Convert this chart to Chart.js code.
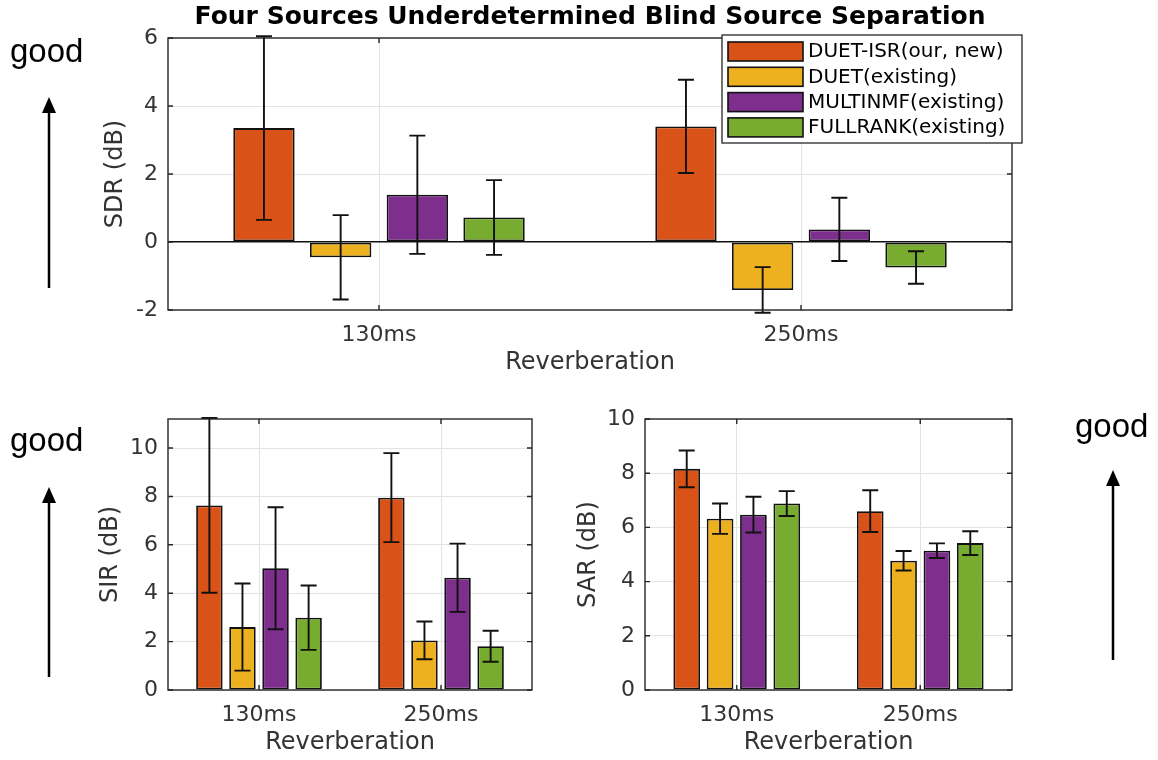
<!DOCTYPE html>
<html>
<head>
<meta charset="utf-8">
<script src="https://cdn.jsdelivr.net/npm/chart.js@4.4.0/dist/chart.umd.min.js"></script>
<style>
  html, body { margin: 0; padding: 0; background: #fff; }
  #page { position: relative; width: 1158px; height: 760px; overflow: hidden; }
  .box { position: absolute; }
  #notes { position: absolute; left: 0; top: 0; pointer-events: none; }
</style>
</head>
<body>
<div id="page">
  <div class="box" style="left:0;top:0;width:1158px;height:380px"><canvas id="sdrChart"></canvas></div>
  <div class="box" style="left:0;top:380px;width:560px;height:380px"><canvas id="sirChart"></canvas></div>
  <div class="box" style="left:560px;top:380px;width:598px;height:380px"><canvas id="sarChart"></canvas></div>
  <svg id="notes" width="1158" height="760">
    <g font-family="Liberation Sans, Arial, sans-serif" font-size="33" fill="#000">
      <text x="10" y="62">good</text>
      <text x="10" y="451">good</text>
      <text x="1075" y="437">good</text>
    </g>
    <g stroke="#000" stroke-width="2.5" fill="#000">
      <line x1="49" y1="288" x2="49" y2="110" />
      <polygon points="49,97 42,113 56,113" stroke="none" />
      <line x1="49" y1="677" x2="49" y2="500" />
      <polygon points="49,487 42,503 56,503" stroke="none" />
      <line x1="1113" y1="660" x2="1113" y2="483" />
      <polygon points="1113,470 1106,486 1120,486" stroke="none" />
    </g>
  </svg>
</div>
<script>
const categories = ['130ms', '250ms'];
const methods = ['DUET-ISR(our, new)', 'DUET(existing)', 'MULTINMF(existing)', 'FULLRANK(existing)'];
const methodColors = ['#D95319', '#EDB120', '#7E2F8E', '#77AC30'];

// one row per method: [130ms, 250ms]
const sdrMean = [[3.35, 3.40], [-0.45, -1.41], [1.39, 0.37], [0.72, -0.75]];
const sdrErr  = [[2.70, 1.37], [1.24, 0.67], [1.74, 0.93], [1.10, 0.48]];
const sirMean = [[7.63, 7.95], [2.60, 2.05], [5.03, 4.64], [2.99, 1.81]];
const sirErr  = [[3.61, 1.84], [1.80, 0.78], [2.52, 1.41], [1.33, 0.64]];
const sarMean = [[8.16, 6.60], [6.32, 4.77], [6.47, 5.14], [6.88, 5.42]];
const sarErr  = [[0.68, 0.77], [0.56, 0.36], [0.66, 0.27], [0.46, 0.44]];

const sdrTicks = [-2, 0, 2, 4, 6];
const sirTicks = [0, 2, 4, 6, 8, 10];
const sarTicks = [0, 2, 4, 6, 8, 10];

Chart.defaults.font.family = 'DejaVu Sans';
Chart.defaults.color = '#333';

// error bars + matlab style box with inward ticks
const errBars = {
  id: 'errBars',
  afterDatasetsDraw(chart) {
    const { ctx, chartArea: a, scales } = chart;
    const y = scales.y, x = scales.x;
    ctx.save();
    ctx.strokeStyle = '#111';
    ctx.lineWidth = 1.9;
    chart.data.datasets.forEach((ds, i) => {
      chart.getDatasetMeta(i).data.forEach((bar, j) => {
        const top = y.getPixelForValue(ds.data[j] + ds.errors[j]);
        const bot = y.getPixelForValue(ds.data[j] - ds.errors[j]);
        ctx.beginPath();
        ctx.moveTo(bar.x, top); ctx.lineTo(bar.x, bot);
        ctx.moveTo(bar.x - 8, top); ctx.lineTo(bar.x + 8, top);
        ctx.moveTo(bar.x - 8, bot); ctx.lineTo(bar.x + 8, bot);
        ctx.stroke();
      });
    });
    // box
    ctx.strokeStyle = '#262626';
    ctx.lineWidth = 1.4;
    ctx.strokeRect(a.left, a.top, a.right - a.left, a.bottom - a.top);
    ctx.beginPath();
    y.ticks.forEach(t => {
      const py = y.getPixelForValue(t.value);
      ctx.moveTo(a.left, py); ctx.lineTo(a.left + 5, py);
      ctx.moveTo(a.right, py); ctx.lineTo(a.right - 5, py);
    });
    categories.forEach((c, i) => {
      const px = x.getPixelForValue(i);
      ctx.moveTo(px, a.bottom); ctx.lineTo(px, a.bottom - 5);
      ctx.moveTo(px, a.top); ctx.lineTo(px, a.top + 5);
    });
    ctx.stroke();
    ctx.restore();
  }
};

const boxLegend = {
  id: 'boxLegend',
  afterDraw(chart, args, opts) {
    if (!opts.show) return;
    const { ctx, chartArea } = chart;
    const x0 = chartArea.right - 290, y0 = chartArea.top - 3;
    ctx.save();
    ctx.fillStyle = '#fff';
    ctx.fillRect(x0, y0, 300, 108);
    ctx.strokeStyle = '#262626';
    ctx.lineWidth = 1.3;
    ctx.strokeRect(x0, y0, 300, 108);
    ctx.font = '20px "DejaVu Sans"';
    ctx.textBaseline = 'middle';
    chart.data.datasets.forEach((ds, i) => {
      const ry = y0 + 7 + i * 25.3;
      ctx.fillStyle = ds.backgroundColor;
      ctx.fillRect(x0 + 6, ry, 75, 19);
      ctx.strokeStyle = '#111';
      ctx.lineWidth = 1.6;
      ctx.strokeRect(x0 + 6, ry, 75, 19);
      ctx.fillStyle = '#000';
      ctx.fillText(ds.label, x0 + 86, ry + 10);
    });
    ctx.restore();
  }
};

function makeChart(id, means, errs, yMin, yMax, tickVals, yTitle, pad, yWidth, extra) {
  const datasets = methods.map((m, i) => ({
    label: m,
    data: means[i],
    errors: errs[i],
    backgroundColor: methodColors[i],
    borderColor: '#111',
    borderWidth: 1.8,
    borderSkipped: false,
    categoryPercentage: 0.727,
    barPercentage: 0.8
  }));
  return new Chart(document.getElementById(id), {
    type: 'bar',
    data: { labels: categories, datasets },
    options: {
      responsive: true,
      maintainAspectRatio: false,
      animation: false,
      layout: { padding: pad },
      plugins: {
        legend: { display: false },
        tooltip: { enabled: false },
        title: extra.title || { display: false },
        boxLegend: { show: !!extra.legend }
      },
      scales: {
        x: {
          grid: { offset: false, color: '#e3e3e3', drawTicks: false },
          border: { display: false },
          ticks: { font: { size: 22 }, padding: 12, color: '#333' },
          title: { display: true, text: 'Reverberation', font: { size: 24 }, color: '#333', padding: { top: 0, bottom: 3 } },
          afterFit: s => { s.height = 70; }
        },
        y: {
          min: yMin,
          max: yMax,
          afterBuildTicks: s => { s.ticks = tickVals.map(v => ({ value: v })); },
          grid: {
            drawTicks: false,
            color: c => (c.tick && c.tick.value === 0 && yMin < 0) ? '#111' : '#e3e3e3',
            lineWidth: c => (c.tick && c.tick.value === 0 && yMin < 0) ? 1.4 : 1
          },
          border: { display: false },
          ticks: { font: { size: 22 }, padding: 10, color: '#333' },
          title: { display: true, text: yTitle, font: { size: 24 }, color: '#333', padding: { top: 1, bottom: 0 } },
          afterFit: s => { s.width = yWidth; }
        }
      }
    },
    plugins: [errBars, boxLegend]
  });
}

makeChart('sdrChart', sdrMean, sdrErr, -2, 6, sdrTicks, 'SDR (dB)',
  { left: 100, right: 146, top: 0, bottom: 0 }, 68, {
    legend: true,
    title: {
      display: true,
      text: 'Four Sources Underdetermined Blind Source Separation',
      fullSize: false,
      color: '#000',
      font: { size: 25, weight: 'bold' },
      padding: { top: 2, bottom: 6 }
    }
  });

makeChart('sirChart', sirMean, sirErr, 0, 11.2, sirTicks, 'SIR (dB)',
  { left: 95, right: 28, top: 39, bottom: 0 }, 73, {});

makeChart('sarChart', sarMean, sarErr, 0, 10, sarTicks, 'SAR (dB)',
  { left: 13, right: 146, top: 39, bottom: 0 }, 72, {});
</script>
</body>
</html>
